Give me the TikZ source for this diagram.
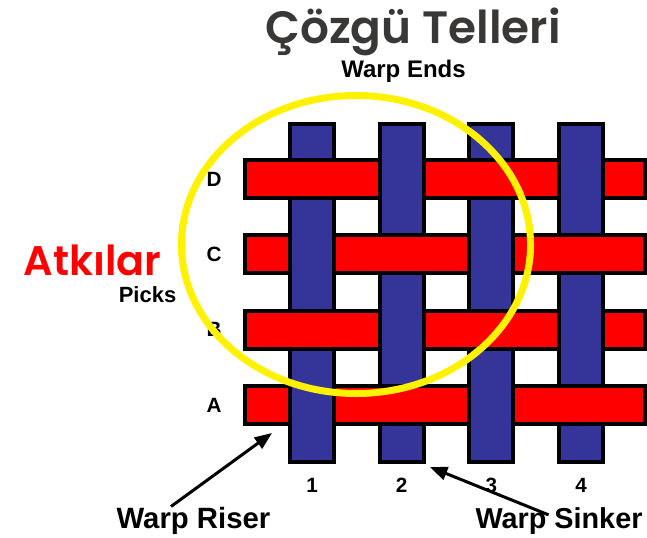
\documentclass[tikz,border=0pt]{standalone}
\usepackage{fontspec}
\setmainfont{Liberation Sans}
\newfontfamily\gothic[BoldFont={Poppins SemiBold}]{Poppins}
\usetikzlibrary{positioning, arrows.meta}
\definecolor{warpblue}{RGB}{53,53,153}
\definecolor{weftred}{RGB}{255,0,0}
\definecolor{titlegray}{RGB}{58,56,54}

\begin{document}
\begin{tikzpicture}[x=0.75pt, y=-0.75pt,
  warp/.style={draw=black, line width=3pt, fill=warpblue},
  weft/.style={draw=black, line width=3pt, fill=weftred},
  lbl/.style={font=\bfseries\fontsize{15.5}{17}\selectfont, inner sep=0pt},
  caption/.style={font=\bfseries\fontsize{#1}{#1}\selectfont, inner sep=0pt, anchor=base},
  pointer/.style={line width=2.25pt, -{Triangle[length=13pt,width=10pt]}}]
\useasboundingbox (0,0) rectangle (647,537);

% warp ends (vertical)
\foreach \c in {1,...,4}
  \draw[warp] ({290+89.7*(\c-1)},124) rectangle ({334+89.7*(\c-1)},462);
% picks (horizontal)
\foreach \r in {0,...,3}
  \draw[weft] (245,{160+75.3*\r}) rectangle (645,{198+75.3*\r});
% warp lying over the pick
\foreach \c/\r in {2/0,4/0,1/1,3/1,2/2,4/2,1/3,3/3}{
  \fill[warpblue] ({290+89.7*(\c-1)},{156+75.3*\r}) rectangle ({334+89.7*(\c-1)},{202+75.3*\r});
  \draw[line width=3pt] ({290+89.7*(\c-1)},{156+75.3*\r}) -- ({290+89.7*(\c-1)},{202+75.3*\r})
    ({334+89.7*(\c-1)},{156+75.3*\r}) -- ({334+89.7*(\c-1)},{202+75.3*\r});
}

% row and column labels
\foreach \l [count=\r from 0] in {D,C,B,A}
  \node[lbl] (pick\l) at (214,{179+75.3*\r}) {\l};
\foreach \c in {1,...,4}
  \node[lbl, anchor=base] (end\c) at ({312+89.7*(\c-1)},492) {\c};

% titles
\node[font=\gothic\bfseries\fontsize{34}{38}\selectfont, text=titlegray, inner sep=0pt, anchor=base] (title) at (413,43) {Çözgü Telleri};
\node[caption=18] (warpends) at (403.5,77) {Warp Ends};
\node[font=\gothic\bfseries\fontsize{31}{34}\selectfont, text=weftred, inner sep=0pt, anchor=base] (atkilar) at (92.5,275) {Atkılar};
\node[caption=16.5] (picks) at (147.5,302) {Picks};
\node[caption=22] (riser) at (193.5,528) {Warp Riser};
\node[caption=21.6] (sinker) at (559,528) {Warp Sinker};

% highlight
\draw[yellow, line width=5.25pt] (356,244.5) ellipse [x radius=130.9pt, y radius=111.75pt];

% pointers
\coordinate (risertip) at (272,433);
\coordinate (sinkertip) at (430,467);
\draw[pointer] ([xshift=41pt]riser.north west) -- (risertip);
\draw[pointer] ([xshift=55pt,yshift=-6pt]sinker.north west) -- (sinkertip);
\end{tikzpicture}
\end{document}
